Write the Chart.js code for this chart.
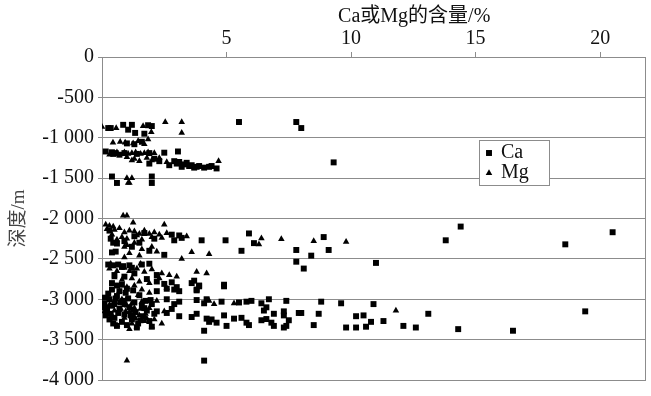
<!DOCTYPE html>
<html>
<head>
<meta charset="utf-8">
<script src="https://cdn.jsdelivr.net/npm/chart.js@4"></script>
<style>
  html, body { margin: 0; background: #fff; }
  #wrap { width: 651px; height: 396px; }
</style>
</head>
<body>
<div id="wrap"><canvas id="chart"></canvas></div>
<script>
// 含量/% 与 深度/m
const caX = [
  0.25, 0.35, 0.85, 1.2, 1.05, 1.33, 1.85, 2.0, 1.7, 5.5, 7.8, 8.0,
  1.0, 1.3, 1.6, 0.15, 0.4, 0.45, 0.55, 0.7, 0.9, 1.4, 1.9, 2.5, 3.05,
  2.1, 2.3, 1.9, 2.9, 3.0, 3.1, 3.3, 3.4, 3.5, 3.6, 3.7, 3.8, 3.9, 4.1, 4.3, 4.4, 4.6, 3.2, 2.7,
  9.3, 0.4, 0.6, 2.0, 2.0,
  0.45, 0.6, 0.4, 0.55, 0.3, 1.3, 1.7, 2.1, 1.2, 1.9, 2.8, 3.1, 2.9, 3.2, 4.0, 4.96, 2.5,
  0.25, 0.45, 0.65, 0.85, 1.1, 1.6, 1.9, 0.5, 0.9, 1.3, 1.8, 2.2,
  3.6, 3.8, 4.9, 3.7, 3.9, 0.4, 0.6, 0.8, 1.0, 2.2, 2.5, 2.8, 3.0, 3.1,
  5.9, 6.1, 5.6, 8.9, 9.1, 7.8, 8.4, 7.8, 8.1, 11.0, 13.8, 14.4, 18.6, 20.5,
  2.2, 2.6, 2.9, 3.8, 3.9, 4.9,
  2.6, 2.9, 3.1, 3.8, 4.1, 4.2, 4.8, 5.5, 6.0, 6.7, 5.8, 6.4, 7.4, 8.8, 9.6,
  2.2, 2.6, 2.8, 3.1, 3.6, 3.8, 4.2, 4.3, 4.4, 4.6, 4.1, 4.9, 5.0, 5.3, 5.8, 6.4, 6.8, 6.5, 6.6,
  6.9, 7.3, 7.3, 7.9, 8.0, 8.7, 5.6, 5.9, 6.6, 6.9, 7.3, 7.4, 7.5, 8.5, 9.8, 10.2, 10.5, 10.2,
  10.6, 10.8, 11.3, 10.9, 12.1, 12.6, 13.1, 14.3, 16.5, 19.4, 2.0,
  0.1, 0.2, 0.3, 0.35, 0.5, 0.5, 0.6, 0.7, 0.8, 0.85, 0.9, 1.0, 1.05, 1.1, 1.2, 1.3, 1.35, 1.45,
  1.5, 1.6, 1.65, 1.75, 1.8, 1.9, 2.0, 0.15, 0.25, 0.4, 0.7, 0.95, 1.25, 1.4, 0.6, 2.1, 0.05, 0.45,
  4.1,
  0.2, 0.4, 0.65, 0.75, 1.15, 1.55, 1.7, 0.3, 0.9, 1.25, 0.55, 1.95, 0.1, 0.8, 1.2, 0.35, 0.9, 1.5
];
const caDepth = [
  -880, -880, -840, -840, -900, -940, -845, -855, -950, -805, -805, -880,
  -1070, -1080, -1050, -1170, -1180, -1200, -1190, -1210, -1190, -1200, -1190, -1185, -1170,
  -1260, -1290, -1320, -1290, -1320, -1300, -1330, -1310, -1350, -1340, -1370, -1360, -1350, -1370, -1360, -1350, -1380, -1360, -1340,
  -1305, -1480, -1560, -1480, -1560,
  -2300, -2310, -2420, -2410, -2150, -2220, -2180, -2250, -2350, -2400, -2200, -2210, -2270, -2240, -2270, -2270, -2450,
  -2570, -2580, -2570, -2590, -2580, -2570, -2560, -2700, -2720, -2680, -2750, -2700,
  -2800, -2880, -2820, -2770, -2830, -2800, -2830, -2820, -2870, -2780, -2810, -2790, -2850, -2900,
  -2185, -2305, -2400, -2230, -2390, -2390, -2460, -2535, -2620, -2550, -2270, -2100, -2320, -2170,
  -2900, -2870, -2880, -2890, -2840, -2840,
  -3000, -3060, -3030, -3010, -3050, -3000, -3030, -3040, -3020, -3000, -3030, -3050, -3020, -3030, -3050,
  -3150, -3170, -3120, -3210, -3220, -3180, -3240, -3280, -3250, -3290, -3390, -3200, -3330, -3240, -3290, -3260, -3290, -3140, -3100,
  -3180, -3150, -3200, -3170, -3170, -3180, -3230, -3320, -3245, -3330, -3350, -3330, -3260, -3320, -3350, -3210, -3200, -3350,
  -3340, -3280, -3270, -3060, -3330, -3350, -3180, -3370, -3390, -3150, -3340,
  -3050, -3110, -3000, -3180, -3060, -3230, -2960, -3120, -3280, -3020, -3190, -3320, -2990, -3100, -3250, -3040, -3160, -3300,
  -2950, -3080, -3210, -3020, -3140, -3270, -3060, -3200, -2930, -2880, -2900, -2920, -2890, -3350, -3330, -3180, -3100, -3300,
  -3760,
  -3150, -3080, -3170, -3040, -3200, -3260, -3110, -3250, -3060, -3130, -2990, -3010, -2980, -2600, -2610, -2250, -2280, -2300
];
const mgX = [
  0.0, 0.57, 1.65, 1.98, 2.54, 3.2, 3.2,
  0.44, 0.73, 0.93, 1.25, 1.45, 1.85, 1.7,
  0.9, 1.05, 1.2, 1.35, 1.55, 1.7, 1.85, 2.1, 0.3, 0.6,
  1.0, 1.3, 1.5, 1.8, 2.0, 2.3, 2.6, 1.2, 4.68,
  1.0, 1.1, 1.2, 1.05,
  0.85, 1.0, 1.25, 0.15, 0.3, 0.45, 2.5,
  0.2, 0.5, 0.7, 0.9, 1.1, 1.3, 1.5, 1.7, 1.9, 2.1, 2.3, 2.6, 0.4, 0.8, 1.0, 1.4, 1.6, 2.0, 2.4, 0.6,
  3.4, 1.0, 1.3, 1.6, 2.0, 1.1, 1.5, 0.9, 2.2, 3.6, 4.3, 3.2,
  6.4, 6.3, 7.2, 8.5, 9.8,
  0.3, 0.6, 0.9, 1.1, 1.4, 1.7, 2.0, 2.4, 2.7, 0.5, 0.8, 1.2, 1.5, 1.9, 2.3, 3.0, 1.0, 1.3, 1.6, 0.7, 1.9, 2.6,
  3.8, 4.2,
  5.3, 4.3, 4.5, 11.8,
  0.1, 0.3, 0.5, 0.7, 0.9, 1.0, 1.1, 1.2, 1.3, 1.5, 1.6, 1.7, 1.9, 2.0, 2.4, 1.8, 1.4, 1.2, 0.8, 0.6, 2.2, 1.0, 2.5, 1.1,
  1.0,
  0.2, 0.4, 0.75, 0.95, 1.35, 1.55, 1.75, 0.5, 1.45, 0.25, 2.1, 1.25, 0.35, 1.55, 0.9
];
const mgDepth = [
  -865, -880, -855, -930, -805, -805, -940,
  -1060, -1050, -1060, -1070, -1040, -1020, -1080,
  -1180, -1200, -1190, -1180, -1200, -1190, -1180, -1190, -1210, -1180,
  -1240, -1260, -1290, -1250, -1280, -1250, -1300, -1280, -1290,
  -1500, -1560, -1500, -1560,
  -1965, -1965, -2050, -2075, -2090, -2100, -2075,
  -2130, -2140, -2120, -2170, -2150, -2160, -2190, -2150, -2190, -2170, -2200, -2180, -2200, -2230, -2250, -2210, -2260, -2230, -2240, -2260,
  -2220, -2330, -2300, -2380, -2350, -2430, -2460, -2480, -2410, -2415, -2440, -2500,
  -2245, -2320, -2255, -2280, -2290,
  -2620, -2650, -2610, -2650, -2620, -2660, -2630, -2680, -2700, -2730, -2760, -2740, -2780, -2800, -2740, -2720, -2850, -2830, -2880, -2900, -2920, -2860,
  -2660, -2680,
  -3050, -3020, -3060, -3140,
  -3150, -3070, -3140, -3040, -3230, -3080, -3160, -3300, -3110, -3200, -3030, -3270, -3110, -3340, -3300, -3240, -3340, -3050, -3000, -3320, -3020, -2990, -3150, -3370,
  -3760,
  -3100, -3200, -3120, -3150, -3240, -3120, -3180, -3010, -2950, -2980, -3250, -3200, -2560, -2560, -2350
];
const xTicks = [5, 10, 15, 20];
const yTicks = [0, -500, -1000, -1500, -2000, -2500, -3000, -3500, -4000];
const seriesNames = ['Ca', 'Mg'];
const xTitle = 'Ca或Mg的含量/%';
const yTitle = '深度/m';

const serif = '"Liberation Serif", "Noto Sans CJK SC", serif';
const gridColor = '#8c8c8c';

function fmtDepth(v) {
  const a = Math.abs(v);
  let s = a >= 1000 ? Math.floor(a / 1000) + ' ' + String(a % 1000).padStart(3, '0') : String(a);
  return (v < 0 ? '-' : '') + s;
}

const overlay = {
  id: 'overlay',
  afterDraw(chart) {
    const { ctx, chartArea: a } = chart;
    ctx.save();
    ctx.fillStyle = '#111';
    ctx.font = '20px ' + serif;
    ctx.textAlign = 'center';
    ctx.textBaseline = 'middle';
    ctx.fillText(xTitle, a.left + a.width * 0.575, 17);

    // legend box
    const lx = a.left + 377, ly = a.top + 83;
    ctx.fillStyle = '#fff';
    ctx.fillRect(lx, ly, 70, 45);
    ctx.strokeStyle = gridColor;
    ctx.lineWidth = 1;
    ctx.strokeRect(lx + 0.5, ly + 0.5, 70, 45);
    chart.data.datasets.forEach((ds, i) => {
      const y = ly + 13 + i * 20;
      ctx.fillStyle = '#000';
      Chart.helpers.drawPoint(ctx, { pointStyle: ds.pointStyle, radius: ds.pointRadius, rotation: 0, borderWidth: 0 }, lx + 10, y);
      ctx.fillStyle = '#111';
      ctx.textAlign = 'left';
      ctx.font = '20px ' + serif;
      ctx.fillText(ds.label, lx + 22, y);
    });
    ctx.restore();
  }
};

const toPts = (xs, ys) => xs.map((x, i) => ({ x: x, y: ys[i] }));

new Chart(document.getElementById('chart'), {
  type: 'scatter',
  data: {
    datasets: [
      { label: seriesNames[0], data: toPts(caX, caDepth), pointStyle: 'rect', pointRadius: 4.2,
        backgroundColor: '#000', borderWidth: 0 },
      { label: seriesNames[1], data: toPts(mgX, mgDepth), pointStyle: 'triangle', pointRadius: 3.8,
        backgroundColor: '#000', borderWidth: 0 }
    ]
  },
  options: {
    responsive: true,
    maintainAspectRatio: false,
    animation: false,
    layout: { padding: { left: 0, right: 6, top: 0, bottom: 10 } },
    plugins: { legend: { display: false }, tooltip: { enabled: false } },
    scales: {
      x: {
        type: 'linear', position: 'top', min: 0, max: 21.8,
        afterBuildTicks: s => { s.ticks = xTicks.map(v => ({ value: v })); },
        afterFit: s => { s.height = 57; },
        ticks: { color: '#111', font: { family: serif, size: 20 }, padding: 1 },
        grid: { drawOnChartArea: false, tickLength: 5, color: gridColor },
        border: { color: gridColor }
      },
      y: {
        type: 'linear', min: -4000, max: 0,
        afterBuildTicks: s => { s.ticks = yTicks.map(v => ({ value: v })); },
        afterFit: s => { s.width = 102; },
        ticks: { color: '#111', font: { family: serif, size: 20 }, padding: 4, callback: v => fmtDepth(v) },
        grid: { color: gridColor, tickLength: 4 },
        border: { color: gridColor },
        title: { display: true, text: yTitle, color: '#444', font: { family: serif, size: 19 }, padding: { top: 8, bottom: 0 } }
      },
      y2: {
        type: 'linear', position: 'right', min: -4000, max: 0,
        afterFit: s => { s.width = 0; },
        ticks: { display: false },
        grid: { display: false },
        border: { color: gridColor }
      }
    }
  },
  plugins: [overlay]
});
</script>
</body>
</html>
